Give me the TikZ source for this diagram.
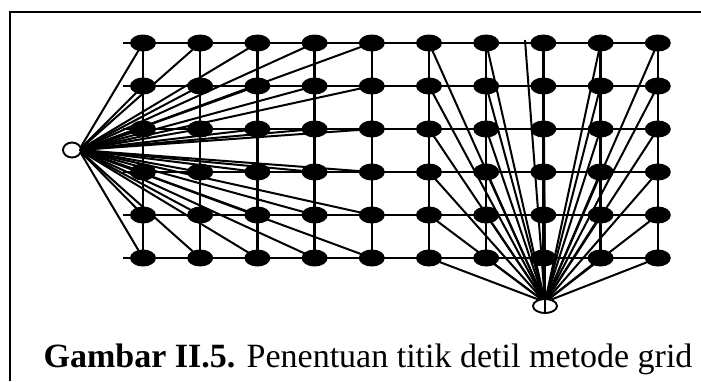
\documentclass[tikz,border=0pt]{standalone}
\usepackage{fontspec}
\setmainfont{Liberation Serif}
\usetikzlibrary{shapes.geometric,backgrounds}
\begin{document}
\begin{tikzpicture}[x=1pt,y=-1pt,
  gp/.style={ellipse,fill=black,minimum width=26pt,minimum height=17pt,inner sep=0pt},
  station/.style={ellipse,draw=black,line width=1.6pt,fill=white,inner sep=0pt},
  gridline/.style={line width=2.4pt},
  ray/.style={line width=2pt},
  frameline/.style={line width=2.2pt}]
\useasboundingbox (0,0) rectangle (701,381);
% frame
\draw[frameline] (10,381) -- (10,12) -- (701,12);
% grid points
\foreach \i in {0,...,9}{
  \foreach \j in {0,...,5}{
    \node[gp] (n-\i-\j) at ({143+57.2*\i},{43+43*\j}) {};
  }
}
% stations
\node[station,minimum width=18pt,minimum height=15pt] (A) at (72,150) {};
\node[station,minimum width=24pt,minimum height=14pt] (B) at (545,306) {};
\coordinate (aC) at (79,150);
\coordinate (bC) at (545,302);
\coordinate (odd) at (525,40);
\foreach \j in {0,...,5}{
  \coordinate (s-\j) at (123,{43+43*\j});
}
\begin{scope}[on background layer]
  % grid lines
  \foreach \j in {0,...,5}{
    \draw[gridline] (s-\j) -- (n-9-\j.center);
  }
  \foreach \i in {0,...,9}{
    \draw[gridline] (n-\i-0.center) -- (n-\i-5.center);
  }
  % rays from A
  \foreach \i in {0,...,4}{
    \foreach \j in {0,...,5}{
      \draw[ray] (aC) -- (n-\i-\j.center);
    }
  }
  % rays from B
  \foreach \i in {5,6,7,8,9}{
    \foreach \j in {0,...,5}{
      \draw[ray] (bC) -- (n-\i-\j.center);
    }
  }
  \draw[ray] (bC) -- (odd);
\end{scope}
% station markers drawn over the rays
\node[station,minimum width=18pt,minimum height=15pt,fill=none] at (A) {};
\node[station,minimum width=24pt,minimum height=14pt,fill=none] at (B) {};
\draw[line width=1.4pt] (B.north) -- (B.south);
\draw[line width=2pt] (aC) -- (A.east);
% caption
\node[anchor=base,inner sep=0pt] (cap) at (368,367)
  {\fontsize{34}{40}\selectfont\textbf{Gambar II.5.} Penentuan titik detil metode grid};
\end{tikzpicture}
\end{document}
